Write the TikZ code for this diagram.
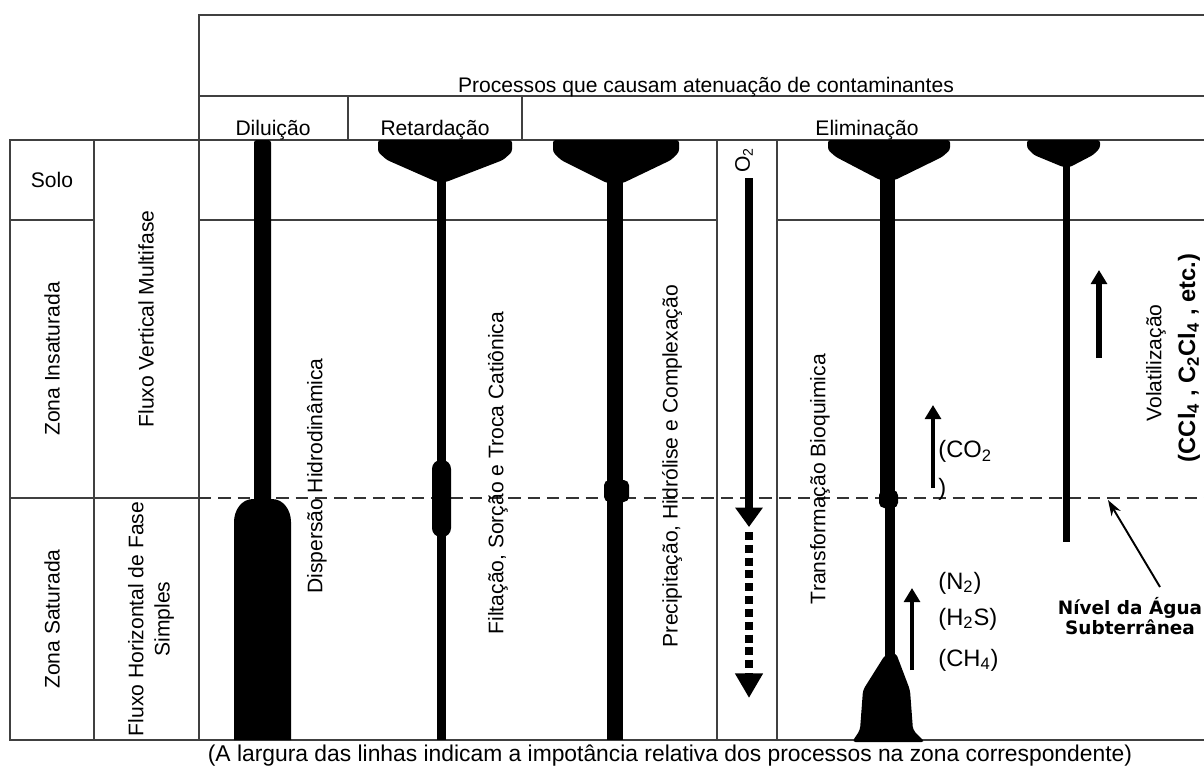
\documentclass[tikz,border=0pt]{standalone}
\usepackage{fontspec}
\setmainfont{Liberation Sans}
\newfontfamily\dejavu{DejaVu Sans}
\usetikzlibrary{arrows.meta}

\tikzset{
  gridline/.style={draw=black!75, line width=0.8pt},
  waterline/.style={draw=black!80, line width=0.8pt, dash pattern=on 7pt off 4pt},
  procfill/.style={fill=black, rounded corners=1.5pt},
  lbl/.style={font=\fontsize{12}{14}\selectfont, inner sep=0pt},
  vlbl/.style={lbl, rotate=90},
  chem/.style={font=\fontsize{13.5}{16}\selectfont, inner sep=0pt, anchor=west},
  gasarrow/.style={line width=2.8pt, -{Triangle[length=8pt,width=9pt]}},
}

\begin{document}
\begin{tikzpicture}[x=0.02cm, y=-0.02cm]
    \useasboundingbox (0,0) rectangle (1204,769);
    \clip (0,0) rectangle (1204,769);

    % table
    \draw[gridline] (199,96) -- (199,15) -- (1213,15);
    \draw[gridline] (199,96) -- (1213,96);
    \draw[gridline] (348,96) -- (348,140) (522,96) -- (522,140);
    \draw[gridline] (10,140) rectangle (1213,740);
    \draw[gridline] (94,140) -- (94,740) (199,96) -- (199,740);
    \draw[gridline] (717,140) -- (717,740) (777,140) -- (777,740);
    \draw[gridline] (10,220) -- (94,220) (199,220) -- (717,220) (777,220) -- (1213,220);
    \draw[gridline] (10,498) -- (199,498);
    \draw[waterline] (199,498) -- (1213,498);

    % headings
    \node[lbl, anchor=base] (title) at (706,92) {Processos que causam atenuação de contaminantes};
    \node[lbl, anchor=base] (dil) at (273,135) {Diluição};
    \node[lbl, anchor=base] (ret) at (435,135) {Retardação};
    \node[lbl, anchor=base] (elim) at (867,135) {Eliminação};

    \node[lbl] (solo) at (52,180) {Solo};
    \node[vlbl] (zinsat) at (52,359) {Zona Insaturada};
    \node[vlbl] (zsat) at (52,619) {Zona Saturada};
    \node[vlbl] (fvert) at (146,319) {Fluxo Vertical Multifase};
    \node[vlbl, align=center, font=\fontsize{12}{15}\selectfont] (fhoriz) at (151,619) {Fluxo Horizontal de Fase\\Simples};

    % diluicao
    \fill[procfill] (254,140) rectangle (271,505);
    \fill (234,740) -- (234,522) to[out=90,in=180] (253,499) -- (272,499) to[out=0,in=90] (291,522) -- (291,740) -- cycle;
    \node[vlbl] (disp) at (317,476) {Dispersão Hidrodinâmica};

    % retardacao
    \fill[procfill] (378,140) -- (512,140) -- (512,152) -- (503,160) -- (446,182) -- (437,182) -- (387,160) -- (378,152) -- cycle;
    \fill (437,178) rectangle (446,740);
    \fill[rounded corners=5pt] (432,460) rectangle (451,537);
    \node[vlbl] (filt) at (498,473) {Filtação, Sorção e Troca Catiônica};

    % precipitacao
    \fill[procfill] (553,140) -- (679,140) -- (679,152) -- (671,160) -- (623,183) -- (607,183) -- (561,160) -- (553,152) -- cycle;
    \fill (607,178) rectangle (623,740);
    \fill[rounded corners=3pt] (604,480) rectangle (629,502);
    \node[vlbl] (precip) at (672,466) {Precipitação, Hidrólise e Complexação};

    % oxigenio
    \node[vlbl] (o2lbl) at (744,160) {O\textsubscript{2}};
    \coordinate (o2top) at (749,178);
    \coordinate (o2mid) at (749,527);
    \coordinate (o2dot) at (749,532);
    \coordinate (o2end) at (749,698);
    \draw[line width=4.5pt, -{Triangle[length=11pt,width=15pt]}] (o2top) -- (o2mid);
    \draw[line width=4.5pt, dash pattern=on 4.5pt off 2.8pt, -{Triangle[length=14pt,width=15pt]}] (o2dot) -- (o2end);

    % transformacao bioquimica
    \fill[procfill] (828,140) -- (950,140) -- (950,150) -- (942,157) -- (895,180) -- (880,180) -- (836,157) -- (828,150) -- cycle;
    \fill (880,175) rectangle (895,497);
    \fill[rounded corners=3pt] (879,490) rectangle (898,508);
    \fill (885,500) rectangle (895,660);
    \fill[rounded corners=2pt] (885,655) -- (896,653) -- (910,690) -- (913,730) -- (925,742) -- (852,742) -- (860,730) -- (863,690) -- cycle;
    \node[vlbl] (transf) at (820,479) {Transformação Bioquimica};

    \coordinate (co2a) at (933,488);
    \coordinate (co2b) at (933,405);
    \draw[gasarrow] (co2a) -- (co2b);
    \node[chem, anchor=north west, align=left, font=\fontsize{13.5}{21.5}\selectfont] (co2) at (938,440) {(CO\textsubscript{2}\\)};

    \coordinate (n2a) at (912,670);
    \coordinate (n2b) at (912,588);
    \draw[gasarrow] (n2a) -- (n2b);
    \node[chem] (n2) at (938,583) {(N\textsubscript{2})};
    \node[chem] (h2s) at (938,619) {(H\textsubscript{2}S)};
    \node[chem] (ch4) at (938,660) {(CH\textsubscript{4})};

    % volatilizacao
    \fill[procfill] (1027,140) -- (1100,140) -- (1100,148) -- (1093,155) -- (1070,167) -- (1063,167) -- (1034,155) -- (1027,148) -- cycle;
    \fill (1063,162) rectangle (1070,542);
    \coordinate (vola) at (1099,358);
    \coordinate (volb) at (1099,270);
    \draw[gasarrow, line width=3.4pt] (vola) -- (volb);
    \node[vlbl] (volat) at (1156,363) {Volatilização};
    \node[vlbl, font=\bfseries\fontsize{13.5}{16}\selectfont] (vgas) at (1189,358) {(CCl\textsubscript{4} , C\textsubscript{2}Cl\textsubscript{4} , etc.)};

    % nivel da agua
    \node[inner sep=0pt, align=center, font=\dejavu\bfseries\fontsize{10.5}{9.7}\selectfont] (nivel) at (1130,616) {Nível da Água\\Subterrânea};
    \coordinate (nivtail) at (1160,587);
    \coordinate (wl) at (1108,500);
    \draw[line width=1.1pt, -{Stealth[length=9pt,width=6pt]}] (nivtail) -- (wl);

    \node[lbl, font=\fontsize{13}{15}\selectfont] (caption) at (670,756) {(A largura das linhas indicam a impotância relativa dos processos na zona correspondente)};
\end{tikzpicture}
\end{document}
